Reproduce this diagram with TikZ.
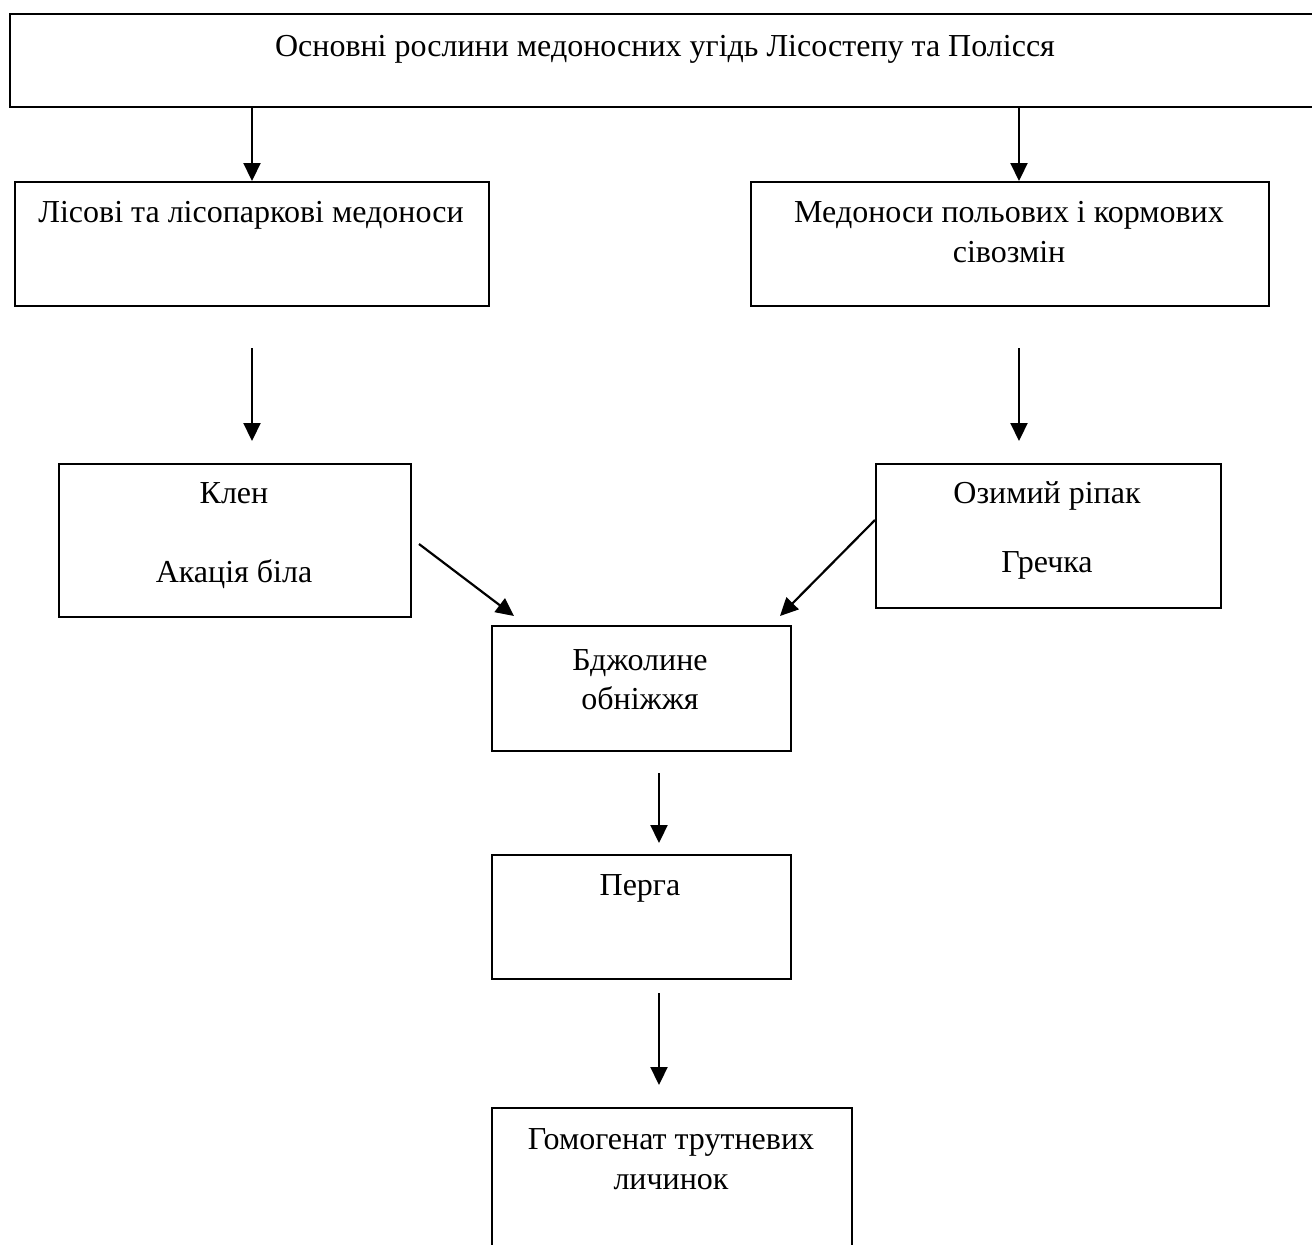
\documentclass[tikz,border=0pt]{standalone}
\usepackage{fontspec}
\setmainfont{Liberation Serif}
\usetikzlibrary{arrows.meta}
\begin{document}
\begin{tikzpicture}[x=1pt,y=-1pt,
  box/.style={draw, line width=2.2pt, inner sep=0pt, anchor=north west},
  lbl/.style={anchor=base, inner sep=0pt, font=\fontsize{32}{40}\selectfont},
  conn/.style={line width=2.2pt, -{Triangle[length=18pt,width=17pt]}}]
\useasboundingbox (0,0) rectangle (1312,1245);
\clip (0,0) rectangle (1312,1245);
% boxes
\node[box, minimum width=1326pt, minimum height=93pt] (top) at (9,13) {};
\node[box, minimum width=474pt, minimum height=124pt] (forest) at (14,181) {};
\node[box, minimum width=518pt, minimum height=124pt] (field) at (750,181) {};
\node[box, minimum width=352pt, minimum height=153pt] (maple) at (58,463) {};
\node[box, minimum width=345pt, minimum height=144pt] (rape) at (875,463) {};
\node[box, minimum width=299pt, minimum height=125pt] (pollen) at (491,625) {};
\node[box, minimum width=299pt, minimum height=124pt] (perga) at (491,854) {};
\node[box, minimum width=360pt, minimum height=183pt] (homog) at (491,1107) {};
% labels
\node[lbl] (ttop) at (665,56) {Основні рослини медоносних угідь Лісостепу та Полісся};
\node[lbl] (tforest) at (251,222) {Лісові та лісопаркові медоноси};
\node[lbl] (tfield1) at (1009,222) {Медоноси польових і кормових};
\node[lbl] (tfield2) at (1009,262) {сівозмін};
\node[lbl] (tmaple1) at (234,503) {Клен};
\node[lbl] (tmaple2) at (234,582) {Акація біла};
\node[lbl] (trape1) at (1047,503) {Озимий ріпак};
\node[lbl] (trape2) at (1047,572) {Гречка};
\node[lbl] (tpollen1) at (640,670) {Бджолине};
\node[lbl] (tpollen2) at (640,709) {обніжжя};
\node[lbl] (tperga) at (640,895) {Перга};
\node[lbl] (thomog1) at (671,1149) {Гомогенат трутневих};
\node[lbl] (thomog2) at (671,1189) {личинок};
% connector endpoints
\coordinate (a1s) at (252,108); \coordinate (a1e) at (252,181);
\coordinate (a2s) at (1019,108); \coordinate (a2e) at (1019,181);
\coordinate (a3s) at (252,348); \coordinate (a3e) at (252,441);
\coordinate (a4s) at (1019,348); \coordinate (a4e) at (1019,441);
\coordinate (a5s) at (419,544); \coordinate (a5e) at (514,616);
\coordinate (a6s) at (875,520); \coordinate (a6e) at (780,616);
\coordinate (a7s) at (659,773); \coordinate (a7e) at (659,843);
\coordinate (a8s) at (659,993); \coordinate (a8e) at (659,1085);
\draw[conn] (a1s) -- (a1e);
\draw[conn] (a2s) -- (a2e);
\draw[conn] (a3s) -- (a3e);
\draw[conn] (a4s) -- (a4e);
\draw[conn] (a5s) -- (a5e);
\draw[conn] (a6s) -- (a6e);
\draw[conn] (a7s) -- (a7e);
\draw[conn] (a8s) -- (a8e);
\end{tikzpicture}
\end{document}
